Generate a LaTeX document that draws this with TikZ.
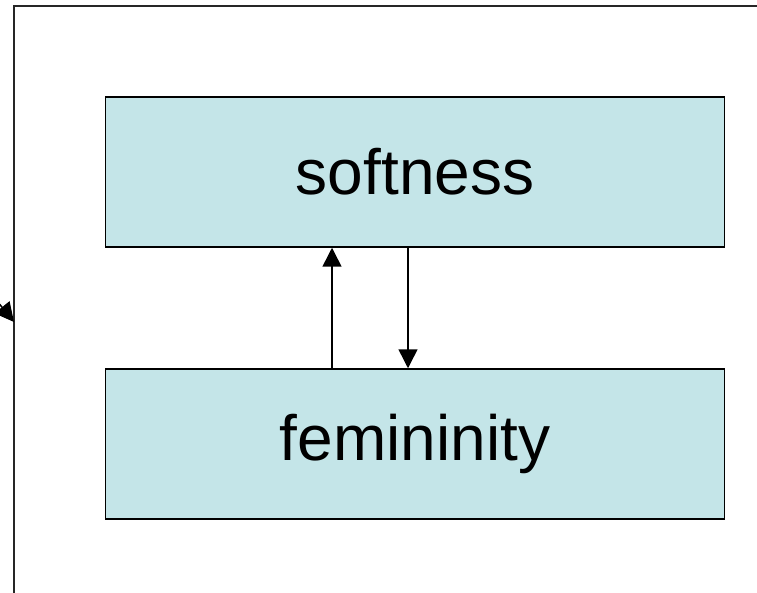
\documentclass[tikz,border=0pt]{standalone}
\usepackage{fontspec}
\setmainfont{Liberation Sans}
\usetikzlibrary{arrows.meta}
\definecolor{boxfill}{RGB}{196,229,232}
\begin{document}
\begin{tikzpicture}[x=1pt,y=-1pt,
  conceptbox/.style={draw=black, line width=1.5pt, fill=boxfill, minimum width=619pt, minimum height=150pt, inner sep=0pt, font=\fontsize{64pt}{70pt}\selectfont},
  link/.style={line width=1.5pt, -{Triangle[length=19pt,width=19pt]}},
  frameline/.style={line width=2pt, draw=black!85}]
\useasboundingbox (0,0) rectangle (757,593);
\clip (0,0) rectangle (757,593);
\coordinate (ftop) at (14,6);
\coordinate (fbot) at (14,600);
\coordinate (fright) at (760,6);
\draw[frameline] (fbot) -- (ftop) -- (fright);
\node[conceptbox] (soft) at (415,172) {softness};
\node[conceptbox] (fem) at (415,444) {femininity};
\draw[link] ([xshift=-83pt]fem.north) -- ([xshift=-83pt]soft.south);
\draw[link] ([xshift=-7pt]soft.south) -- ([xshift=-7pt]fem.north);
\coordinate (lstart) at (-20,280);
\coordinate (ltip) at (14,322);
\draw[link] (lstart) -- (ltip);
\end{tikzpicture}
\end{document}
